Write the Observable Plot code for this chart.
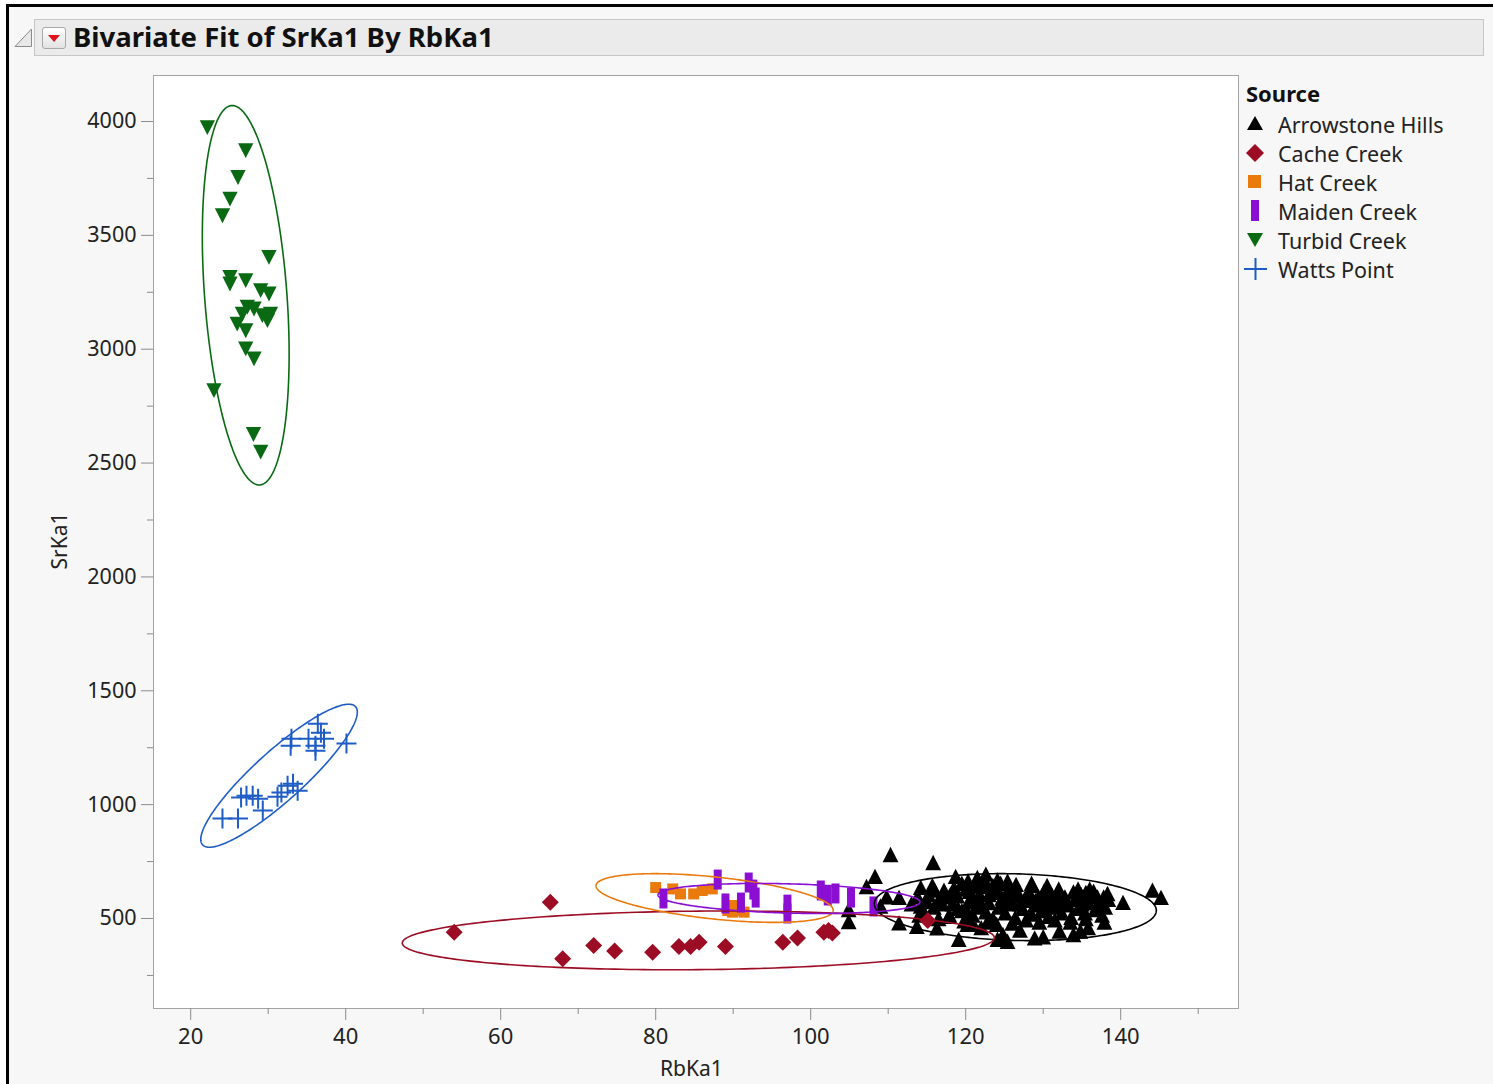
<!DOCTYPE html>
<html><head><meta charset="utf-8">
<script src="https://cdn.jsdelivr.net/npm/d3@7"></script>
<script src="https://cdn.jsdelivr.net/npm/@observablehq/plot@0.6"></script>
<style>
html,body{margin:0;padding:0;background:#fff;}
body{width:1493px;height:1084px;position:relative;overflow:hidden;font-family:"Noto Sans",sans-serif;color:#1e1e1e;}
#panel{position:absolute;left:6px;top:4px;width:1487px;height:1080px;border-left:3px solid #000;border-top:3px solid #000;background:#f7f7f7;box-sizing:border-box;}
#header{position:absolute;left:34px;top:19px;width:1450px;height:37px;background:#ebebeb;border:1px solid #c6c6c6;box-sizing:border-box;}
#title{position:absolute;left:73px;top:17px;font-size:27.5px;font-weight:bold;line-height:40px;color:#111;white-space:nowrap;}
#btn{position:absolute;left:42px;top:27px;width:24px;height:22px;border:1px solid #a8a8a8;border-radius:3px;background:linear-gradient(#ffffff,#e2e2e2);box-sizing:border-box;}
#chart{position:absolute;left:0;top:60px;}
.ttl{position:absolute;font-size:21px;white-space:nowrap;color:#222;}
#legend{position:absolute;left:1246px;top:76px;}
#legend .head{font-weight:bold;font-size:22px;line-height:34px;color:#111;}
#legend .row{position:relative;height:29px;line-height:29px;font-size:21.5px;color:#222;}
#legend .row svg{position:absolute;left:-2px;top:0;}
#legend .row span{position:absolute;left:32px;top:0;white-space:nowrap;}
</style></head>
<body>
<div id="panel"></div>
<svg style="position:absolute;left:13px;top:26px" width="22" height="24"><path d="M18.5,3 L18.5,20.5 L2,20.5 Z" fill="#e8e8e8" stroke="#8a8a8a" stroke-width="1"/></svg>
<div id="header"></div>
<div id="btn"><svg width="22" height="20" style="position:absolute;left:0;top:0"><path d="M5,7 L17,7 L11,14 Z" fill="#e0121e"/></svg></div>
<div id="title">Bivariate Fit of SrKa1 By RbKa1</div>
<div id="chart"></div>
<div class="ttl" id="xttl">RbKa1</div>
<div class="ttl" id="yttl">SrKa1</div>
<div id="legend"></div>
<script>
// ---------------- data ----------------
const sources = ["Arrowstone Hills","Cache Creek","Hat Creek","Maiden Creek","Turbid Creek","Watts Point"];
const colors  = ["#000000","#9c0c24","#ea7a0c","#8a0fd3","#0a6a14","#1f5cc6"];

const arrowstoneRb = [110.3,115.8,108.3,107.2,104.9,104.9,109.8,111.4,114.2,115.7,111.4,113.7,116.3,119.1,117.9,
  118.7,120.3,121.5,122.6,124.1,125.4,126.5,128.6,130.1,131.9,133.9,135.5,136.5,137.8,140.3,144.1,145.2,
  124.8,125.4,124.1,128.9,130.0,132.1,133.9,134.8,135.8,137.9,127.0,122.0,120.2,109.0,114.2,
  113.0,113.8,114.5,115.2,115.9,116.5,117.2,117.8,118.3,118.9,119.5,120.0,120.4,120.9,121.3,121.8,122.2,122.6,
  123.0,123.5,123.9,124.3,124.7,125.1,125.6,126.0,126.4,126.9,127.3,127.7,128.1,128.5,128.9,129.4,129.8,130.2,
  130.7,131.1,131.5,131.9,132.4,132.8,133.2,133.6,134.1,134.5,134.9,135.4,135.8,136.2,136.7,137.1,137.6,138.0,138.4,
  119.0,121.0,123.0,125.0,127.0,129.0,131.0,133.0,135.0,117.0,122.0,128.0,130.0,124.0,126.0,120.0,118.0,116.0,
  119.5,120.5,121.5,122.5,123.5,124.5,125.5,126.5,119.8,121.0,122.8,124.0,126.0,127.8,129.5,131.5,133.5,135.5,
  137.0,138.3,132.0,130.5,128.5,134.5,136.0,118.5,117.0,115.0,114.0,116.5];
const arrowstoneSr = [776,741,680,636,535,482,590,588,632,640,476,461,454,404,510,
  680,660,675,690,665,660,645,640,615,612,612,610,615,590,566,620,588,
  425,395,404,410,415,440,425,440,455,480,445,455,470,550,550,
  560,590,530,600,545,575,620,505,560,595,530,625,570,510,545,600,635,525,
  565,495,610,545,585,520,630,560,500,595,540,575,615,515,555,590,530,570,
  505,600,545,575,520,590,555,500,580,540,600,520,565,590,535,560,510,545,580,
  540,585,600,570,560,575,555,570,560,560,560,590,545,625,610,540,600,620,
  650,615,640,660,640,650,600,620,485,470,480,470,475,490,480,490,480,495,
  590,605,625,640,650,625,625,630,590,570,510,495];

const cacheRb = [54.0,66.4,68.0,72.0,74.7,79.6,83.0,84.5,85.6,89.0,96.4,98.3,101.7,102.8,102.3,115.1];
const cacheSr = [440,571,323,382,357,352,377,377,396,377,396,414,440,436,447,491];

const hatRb = [80.0,82.2,83.2,84.9,86.0,87.3,89.3,89.9,90.5,91.4,90.1];
const hatSr = [636,630,608,608,623,630,535,528,535,528,557];

const maidenRb = [81.0,88.0,89.0,91.0,92.0,92.6,92.9,97.0,97.0,101.3,102.2,103.2,105.2,108.1];
const maidenSr = [588,671,566,570,658,627,592,561,522,623,601,610,592,553];

const turbidRb = [22.15,27.1,26.1,25.07,24.1,30.1,25.07,25.07,27.1,29.03,30.1,27.3,28.17,26.67,29.25,30.3,29.9,26.0,27.1,27.1,28.17,23.0,28.1,29.03];
const turbidSr = [3978,3877,3759,3664,3591,3408,3320,3291,3306,3262,3247,3189,3181,3159,3152,3159,3130,3115,3086,3006,2962,2823,2630,2553];

const wattsRb = [24.1,26.1,26.5,27.2,28.0,28.7,29.3,31.2,31.7,32.5,33.2,33.8,32.9,33.0,36.1,36.8,37.2,36.4,36.1,40.1,35.2];
const wattsSr = [939,939,1031,1039,1039,1026,974,1035,1053,1083,1092,1061,1259,1289,1259,1316,1289,1355,1237,1268,1289];

// 95% density ellipses as drawn in the reference: centre, half-extent in x and y, correlation
const ellCenterRb = [126.4, 85.5, 87.6, 97.2, 27.1, 31.4];
const ellCenterSr = [550, 404, 590, 588, 3237, 1127];
const ellHalfRb   = [18.2, 38.2, 15.3, 16.9, 5.6, 10.1];
const ellHalfSr   = [147, 129, 107, 66, 833, 314];
const ellCorr     = [-0.10, 0.09, -0.50, -0.23, -0.31, 0.89];

const xMajor = [20,40,60,80,100,120,140];
const xMinor = [30,50,70,90,110,130,150];
const yMajor = [500,1000,1500,2000,2500,3000,3500,4000];
const yMinor = [250,750,1250,1750,2250,2750,3250,3750];

// ---------------- symbols ----------------
function sym(f){return {draw(ctx,size){const a=Math.sqrt(size/Math.PI);f(ctx,a);}};}
const triUp   = sym((c,a)=>{c.moveTo(0,-a);c.lineTo(a*0.9,a*0.75);c.lineTo(-a*0.9,a*0.75);c.closePath();});
const triDown = sym((c,a)=>{c.moveTo(0,a);c.lineTo(a*0.9,-a*0.75);c.lineTo(-a*0.9,-a*0.75);c.closePath();});
const diamond = sym((c,a)=>{c.moveTo(0,-a);c.lineTo(a,0);c.lineTo(0,a);c.lineTo(-a,0);c.closePath();});
const square  = sym((c,a)=>{c.rect(-a,-a,2*a,2*a);});
const tallRect= sym((c,a)=>{c.rect(-a*0.4,-a,a*0.8,2*a);});
const plus    = sym((c,a)=>{c.moveTo(-a,0);c.lineTo(a,0);c.moveTo(0,-a);c.lineTo(0,a);});

const groups = [
  {rb:arrowstoneRb, sr:arrowstoneSr, symbol:triUp,   r:8.8, filled:true},
  {rb:cacheRb,      sr:cacheSr,      symbol:diamond, r:8.5, filled:true},
  {rb:hatRb,        sr:hatSr,        symbol:square,  r:5.5, filled:true},
  {rb:maidenRb,     sr:maidenSr,     symbol:tallRect,r:10,  filled:true},
  {rb:turbidRb,     sr:turbidSr,     symbol:triDown, r:8.5, filled:true},
  {rb:wattsRb,      sr:wattsSr,      symbol:plus,    r:10,  filled:false}
];

const marks = [Plot.frame({fill:"white", stroke:"#a3a3a3"})];
groups.forEach((g,i)=>{
  const rows = g.rb.map((v,j)=>({RbKa1:v, SrKa1:g.sr[j]}));
  marks.push(Plot.dot(rows, {x:"RbKa1", y:"SrKa1", symbol:g.symbol, r:g.r,
    fill: g.filled ? colors[i] : "none", stroke: g.filled ? "none" : colors[i], strokeWidth: g.filled ? 0 : 2}));
});
sources.forEach((s,i)=>{
  const pts=[];
  const rr = ellCorr[i], q = Math.sqrt(1-rr*rr);
  for(let j=0;j<=240;j++){
    const t = j/240*2*Math.PI;
    pts.push({RbKa1: ellCenterRb[i] + ellHalfRb[i]*Math.cos(t),
              SrKa1: ellCenterSr[i] + ellHalfSr[i]*(rr*Math.cos(t) + q*Math.sin(t))});
  }
  marks.push(Plot.line(pts, {x:"RbKa1", y:"SrKa1", stroke:colors[i], strokeWidth:1.6, curve:"linear"}));
});
marks.push(
  Plot.axisX({ticks:xMajor, tickSize:12, tickPadding:8, tickFormat:d=>String(d), stroke:"#8c8c8c", fill:"#222", label:null, fontSize:22}),
  Plot.axisX({ticks:xMinor, tickSize:6, tickFormat:()=>"", stroke:"#8c8c8c", label:null}),
  Plot.axisY({ticks:yMajor, tickSize:12, tickPadding:5, tickFormat:d=>String(d), stroke:"#8c8c8c", fill:"#222", label:null, fontSize:21.5}),
  Plot.axisY({ticks:yMinor, tickSize:6, tickFormat:()=>"", stroke:"#8c8c8c", label:null})
);

const chart = Plot.plot({
  width:1240, height:1024,
  marginLeft:153, marginTop:15, marginRight:2, marginBottom:76,
  x:{domain:[15.2,155.2]},
  y:{domain:[104.8,4202]},
  style:{background:"transparent", fontFamily:"'Noto Sans', sans-serif", overflow:"visible"},
  marks
});
document.getElementById("chart").appendChild(chart);

// axis titles
const xt = document.getElementById("xttl");
xt.style.left = "660px"; xt.style.top = "1054px";
const yt = document.getElementById("yttl");
yt.style.left = "30px"; yt.style.top = "527px"; yt.style.transform = "rotate(-90deg)";

// legend
const leg = document.getElementById("legend");
let html = '<div class="head">Source</div>';
const legendShapes = [
  c=>`<path d="M11,6 L19,20 L3,20 Z" fill="${c}"/>`,
  c=>`<path d="M11,5 L20,14 L11,23 L2,14 Z" fill="${c}"/>`,
  c=>`<rect x="4" y="7" width="13" height="13" fill="${c}"/>`,
  c=>`<rect x="7" y="3" width="8" height="21" fill="${c}"/>`,
  c=>`<path d="M3,7 L19,7 L11,21 Z" fill="${c}"/>`,
  c=>`<path d="M0,14 L23,14 M11.5,3 L11.5,25" stroke="${c}" stroke-width="2" fill="none"/>`
];
sources.forEach((s,i)=>{
  html += `<div class="row"><svg width="26" height="28">${legendShapes[i](colors[i])}</svg><span>${s}</span></div>`;
});
leg.innerHTML = html;
</script>
</body></html>
